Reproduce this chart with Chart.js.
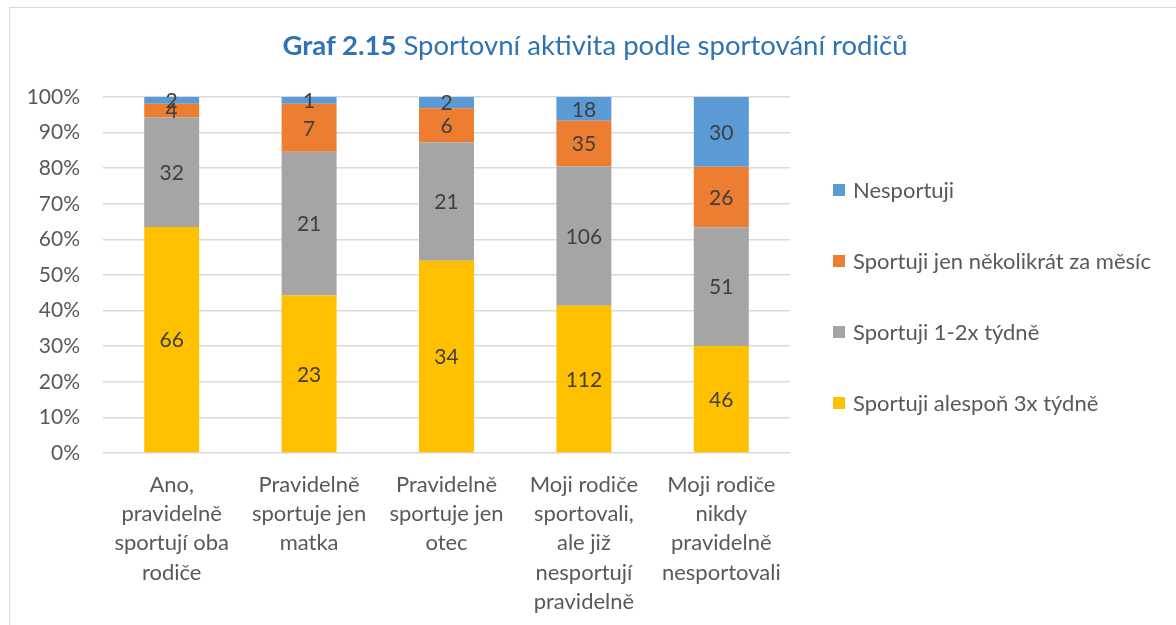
<!DOCTYPE html>
<html>
<head>
<meta charset="utf-8">
<script src="https://cdn.jsdelivr.net/npm/chart.js@4"></script>
<style>
  body { margin: 0; background: #fff; font-family: Lato, "Open Sans", sans-serif; }
  #wrap { position: relative; width: 1176px; height: 625px; overflow: hidden; }
  #frame { position: absolute; left: 9px; top: 7px; width: 1300px; height: 800px;
           border-left: 1.5px solid #d9d9d9; border-top: 1.5px solid #d9d9d9; }
  #title { position: absolute; left: 0; width: 1190px; top: 28px; text-align: center;
           font-size: 27.5px; color: #2e74b5; }
  #legend { position: absolute; left: 833px; top: 178px; }
  .item { height: 24px; line-height: 24px; margin-bottom: 47px; font-size: 22px; color: #595959;
          display: flex; align-items: center; }
  .sw { width: 12px; height: 12px; margin-right: 8px; }
  canvas { position: absolute; left: 0; top: 0; }
</style>
</head>
<body>
<div id="wrap">
  <div id="frame"></div>
  <canvas id="chart" width="1176" height="625"></canvas>
  <div id="title"><b>Graf 2.15</b> Sportovní aktivita podle sportování rodičů</div>
  <div id="legend"></div>
</div>
<script>
const categories = [
  ["Ano,", "pravidelně", "sportují oba", "rodiče"],
  ["Pravidelně", "sportuje jen", "matka"],
  ["Pravidelně", "sportuje jen", "otec"],
  ["Moji rodiče", "sportovali,", "ale již", "nesportují", "pravidelně"],
  ["Moji rodiče", "nikdy", "pravidelně", "nesportovali"]
];

// counts per category (bottom to top of the stack)
const alespon3x = [66, 23, 34, 112, 46];
const tydne12 = [32, 21, 21, 106, 51];
const mesicne = [4, 7, 6, 35, 26];
const nesportuji = [2, 1, 2, 18, 30];

const seriesNames = ["Sportuji alespoň 3x týdně", "Sportuji 1-2x týdně", "Sportuji jen několikrát za měsíc", "Nesportuji"];
const seriesColors = ["#ffc000", "#a5a5a5", "#ed7d31", "#5b9bd5"];
const counts = [alespon3x, tydne12, mesicne, nesportuji];

const totals = categories.map((c, j) => counts.reduce((s, arr) => s + arr[j], 0));
const pct = arr => arr.map((v, j) => v / totals[j] * 100);

const FONT = "Lato, 'Open Sans', sans-serif";

// value labels in the middle of each segment
const valueLabels = {
  id: "valueLabels",
  afterDatasetsDraw(chart) {
    const ctx = chart.ctx;
    ctx.save();
    ctx.font = "21px " + FONT;
    ctx.fillStyle = "#404040";
    ctx.textAlign = "center";
    ctx.textBaseline = "middle";
    chart.data.datasets.forEach((ds, i) => {
      chart.getDatasetMeta(i).data.forEach((bar, j) => {
        const p = bar.getProps(["x", "y", "base"], true);
        ctx.fillText(String(counts[i][j]), p.x, (p.y + p.base) / 2 + 1);
      });
    });
    ctx.restore();
  }
};

new Chart(document.getElementById("chart"), {
  type: "bar",
  data: {
    labels: categories,
    datasets: seriesNames.map((name, i) => ({
      label: name,
      data: pct(counts[i]),
      backgroundColor: seriesColors[i],
      borderWidth: 0,
      categoryPercentage: 1,
      barPercentage: 0.4
    }))
  },
  options: {
    responsive: false,
    animation: false,
    layout: { padding: { top: 97, right: 386, left: 0, bottom: 0 } },
    plugins: {
      legend: { display: false },
      title: { display: false },
      tooltip: { enabled: false }
    },
    scales: {
      x: {
        stacked: true,
        grid: { display: false },
        border: { display: false },
        ticks: { color: "#595959", font: { family: FONT, size: 22, lineHeight: 1.33 }, padding: 9, maxRotation: 0, autoSkip: false },
        afterFit: s => { s.height = 172; }
      },
      y: {
        stacked: true,
        min: 0,
        max: 100,
        grid: { color: "#d9d9d9", lineWidth: 1.5, drawTicks: false },
        border: { display: false },
        ticks: { stepSize: 10, color: "#595959", font: { family: FONT, size: 21 }, padding: 23,
                 callback: v => v + "%" },
        afterFit: s => { s.width = 103; }
      }
    }
  },
  plugins: [valueLabels]
});

const legend = document.getElementById("legend");
for (let i = seriesNames.length - 1; i >= 0; i--) {
  const item = document.createElement("div");
  item.className = "item";
  item.innerHTML = `<span class="sw" style="background:${seriesColors[i]}"></span>${seriesNames[i]}`;
  legend.appendChild(item);
}
</script>
</body>
</html>
